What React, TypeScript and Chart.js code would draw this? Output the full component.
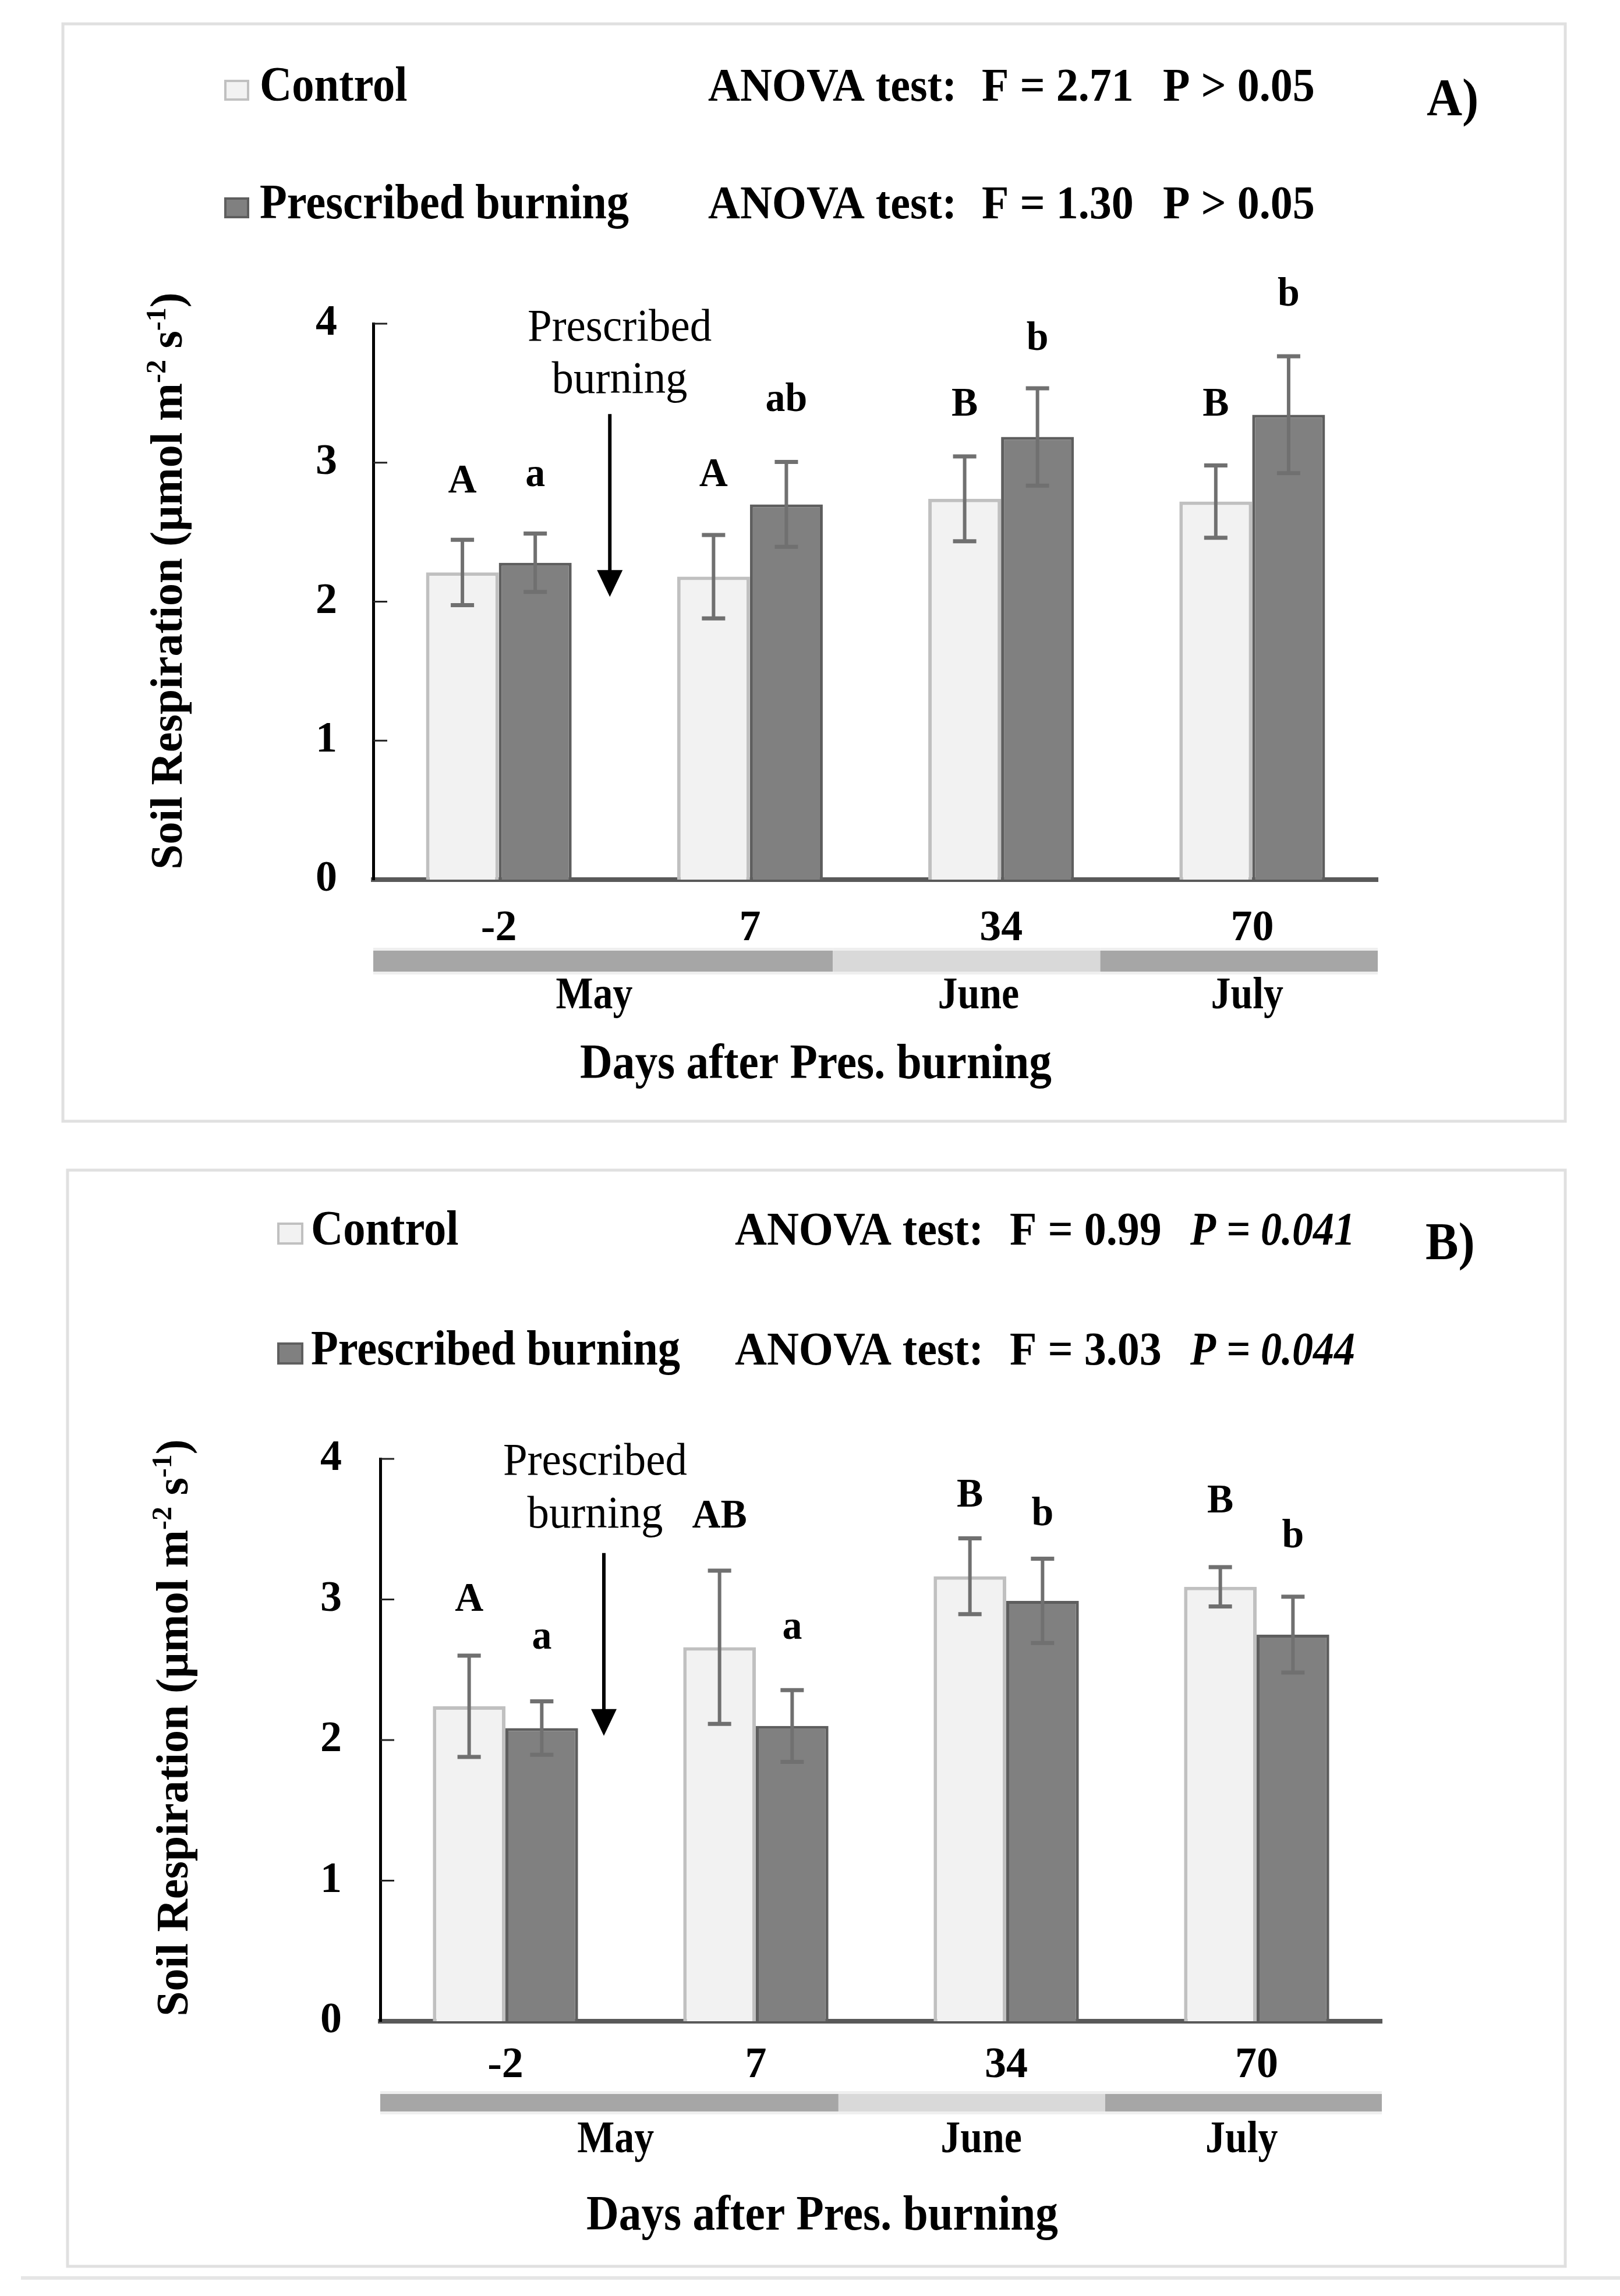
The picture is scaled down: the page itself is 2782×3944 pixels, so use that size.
import React, { useEffect, useRef } from 'react';
import { Chart, registerables } from 'chart.js';

Chart.register(...registerables);

// ---------------- data ----------------
const categories = ['-2', '7', '34', '70'];
const seriesNames = ['Control', 'Prescribed burning'];

// Panel A
const controlA = [2.21, 2.18, 2.74, 2.72];
const controlErrA = [0.235, 0.3, 0.305, 0.26];
const burnA = [2.28, 2.7, 3.185, 3.345];
const burnErrA = [0.21, 0.305, 0.35, 0.42];
const controlLettersA = ['A', 'A', 'B', 'B'];
const controlLetterYA = [2.785, 2.83, 3.34, 3.34];
const burnLettersA = ['a', 'ab', 'b', 'b'];
const burnLetterYA = [2.83, 3.37, 3.81, 4.13];
const anovaFA = ['F = 2.71', 'F = 1.30'];
const anovaPA = ['P > 0.05', 'P > 0.05'];

// Panel B
const controlB = [2.24, 2.66, 3.165, 3.09];
const controlErrB = [0.36, 0.545, 0.27, 0.14];
const burnB = [2.085, 2.1, 2.99, 2.75];
const burnErrB = [0.19, 0.255, 0.3, 0.27];
const controlLettersB = ['A', 'AB', 'B', 'B'];
const controlLetterYB = [2.92, 3.51, 3.66, 3.62];
const burnLettersB = ['a', 'a', 'b', 'b'];
const burnLetterYB = [2.65, 2.72, 3.53, 3.37];
const anovaFB = ['F = 0.99', 'F = 3.03'];
const anovaPB = ['P = 0.041', 'P = 0.044'];

// month bands (in category-axis units)
const months = ['May', 'June', 'July'];
const monthStart = [-0.5, 1.33, 2.395];
const monthEnd = [1.33, 2.395, 3.5];
const monthLabelAtA = [0.38, 1.91, 2.98];
const monthLabelAtB = [0.44, 1.9, 2.94];
const monthColors = ['#a6a6a6', '#d9d9d9', '#a6a6a6'];

const yTicks = [0, 1, 2, 3, 4];

// ---------------- style ----------------
const W = 2782;
const H = 1972;
const SERIF = '"Liberation Serif", "Times New Roman", serif';
const CONTROL_FILL = '#f2f2f2';
const CONTROL_EDGE = '#c0c0c0';
const BURN_FILL = '#808080';
const BURN_EDGE = '#5e5e5e';
const ERR_COLOR = '#707070';

type PanelSpec = {
  control: number[];
  controlErr: number[];
  burn: number[];
  burnErr: number[];
  controlLetters: string[];
  controlLetterY: number[];
  burnLetters: string[];
  burnLetterY: number[];
  anovaF: string[];
  anovaP: string[];
  pItalic: boolean;
  letter: string;
  monthLabelAt: number[];
  pad: { left: number; right: number; top: number; bottom: number };
  yLabelPad: number;
  xLabelPad: number;
  border: { x: number; y: number; w: number; h: number };
  bottomLine?: number;
  legendSqX: number;
  legendSqW: number;
  legendSqH: number;
  legendTextX: number;
  rowBase: number[];
  anovaX: number[];
  letterX: number;
  letterBase: number;
  yTitleX: number;
  yTitleY: number;
  xTitleX: number;
  xTitleBase: number;
  monthBase: number;
  bandTop: number;
  bandBottom: number;
  presTextX: number;
  presBase: number[];
  arrowX: number;
  arrowFrom: number;
  arrowTo: number;
};

const panelA: PanelSpec = {
  control: controlA,
  controlErr: controlErrA,
  burn: burnA,
  burnErr: burnErrA,
  controlLetters: controlLettersA,
  controlLetterY: controlLetterYA,
  burnLetters: burnLettersA,
  burnLetterY: burnLetterYA,
  anovaF: anovaFA,
  anovaP: anovaPA,
  pItalic: false,
  letter: 'A)',
  monthLabelAt: monthLabelAtA,
  pad: { left: 481, right: 416, top: 556, bottom: 311 },
  yLabelPad: 62,
  xLabelPad: 40,
  border: { x: 108, y: 41, w: 2580, h: 1885 },
  legendSqX: 385,
  legendSqW: 43,
  legendSqH: 36,
  legendTextX: 446,
  rowBase: [173, 375],
  anovaX: [1216, 1686, 1997],
  letterX: 2450,
  letterBase: 198,
  yTitleX: 312,
  yTitleY: 998,
  xTitleX: 1401,
  xTitleBase: 1852,
  monthBase: 1732,
  bandTop: 1633,
  bandBottom: 1669,
  presTextX: 0.481,
  presBase: [3.88, 3.5],
  arrowX: 0.442,
  arrowFrom: 3.35,
  arrowTo: 2.035,
};

const panelB: PanelSpec = {
  control: controlB,
  controlErr: controlErrB,
  burn: burnB,
  burnErr: burnErrB,
  controlLetters: controlLettersB,
  controlLetterY: controlLetterYB,
  burnLetters: burnLettersB,
  burnLetterY: burnLetterYB,
  anovaF: anovaFB,
  anovaP: anovaPB,
  pItalic: true,
  letter: 'B)',
  monthLabelAt: monthLabelAtB,
  pad: { left: 493, right: 409, top: 534, bottom: 322 },
  yLabelPad: 66,
  xLabelPad: 32,
  border: { x: 116, y: 38, w: 2572, h: 1883 },
  bottomLine: 1941,
  legendSqX: 476,
  legendSqW: 45,
  legendSqH: 38,
  legendTextX: 534,
  rowBase: [166, 372],
  anovaX: [1262, 1734, 2044],
  letterX: 2448,
  letterBase: 191,
  yTitleX: 322,
  yTitleY: 996,
  xTitleX: 1412,
  xTitleBase: 1858,
  monthBase: 1725,
  bandTop: 1625,
  bandBottom: 1655,
  presTextX: 0.358,
  presBase: [3.89, 3.51],
  arrowX: 0.393,
  arrowFrom: 3.33,
  arrowTo: 2.03,
};

function drawText(
  ctx: CanvasRenderingContext2D,
  s: string,
  x: number,
  y: number,
  font: string,
  align: CanvasTextAlign = 'left',
  sx = 1
) {
  ctx.save();
  ctx.translate(x, y);
  ctx.scale(sx, 1);
  ctx.font = font;
  ctx.textAlign = align;
  ctx.textBaseline = 'alphabetic';
  ctx.fillStyle = '#000';
  ctx.fillText(s, 0, 0);
  ctx.restore();
}

function makePlugin(p: PanelSpec) {
  return {
    id: 'panelDecor',
    beforeDraw(chart: any) {
      const ctx: CanvasRenderingContext2D = chart.ctx;
      ctx.save();
      ctx.fillStyle = '#ffffff';
      ctx.fillRect(0, 0, chart.width, chart.height);
      ctx.strokeStyle = '#e0e0e0';
      ctx.lineWidth = 5;
      ctx.strokeRect(p.border.x, p.border.y, p.border.w, p.border.h);
      if (p.bottomLine) {
        ctx.fillStyle = '#e6e6e6';
        ctx.fillRect(36, p.bottomLine - 3, chart.width - 36, 6);
      }
      ctx.restore();
    },
    afterDatasetsDraw(chart: any) {
      const ctx: CanvasRenderingContext2D = chart.ctx;
      const y = chart.scales.y;
      ctx.save();
      const sets = [
        { vals: p.control, errs: p.controlErr },
        { vals: p.burn, errs: p.burnErr },
      ];
      sets.forEach((s, di) => {
        const meta = chart.getDatasetMeta(di);
        meta.data.forEach((bar: any, i: number) => {
          const cx = bar.x;
          const yHi = y.getPixelForValue(s.vals[i] + s.errs[i]);
          const yLo = y.getPixelForValue(s.vals[i] - s.errs[i]);
          ctx.strokeStyle = ERR_COLOR;
          ctx.lineWidth = 6;
          ctx.beginPath();
          ctx.moveTo(cx, yHi);
          ctx.lineTo(cx, yLo);
          ctx.stroke();
          ctx.lineWidth = 7;
          ctx.beginPath();
          ctx.moveTo(cx - 20, yHi);
          ctx.lineTo(cx + 20, yHi);
          ctx.moveTo(cx - 20, yLo);
          ctx.lineTo(cx + 20, yLo);
          ctx.stroke();
        });
      });
      ctx.restore();
    },
    afterDraw(chart: any) {
      const ctx: CanvasRenderingContext2D = chart.ctx;
      const { x, y } = chart.scales;
      const area = chart.chartArea;
      ctx.save();

      // inner y ticks
      ctx.strokeStyle = '#222';
      ctx.lineWidth = 3;
      yTicks.forEach((v) => {
        if (v === 0) return;
        const py = y.getPixelForValue(v);
        ctx.beginPath();
        ctx.moveTo(area.left, py);
        ctx.lineTo(area.left + 24, py);
        ctx.stroke();
      });

      // significance letters
      const letterFont = `bold 70px ${SERIF}`;
      const cm = chart.getDatasetMeta(0);
      const bm = chart.getDatasetMeta(1);
      cm.data.forEach((bar: any, i: number) => {
        drawText(ctx, p.controlLetters[i], bar.x, y.getPixelForValue(p.controlLetterY[i]), letterFont, 'center', 0.97);
      });
      bm.data.forEach((bar: any, i: number) => {
        drawText(ctx, p.burnLetters[i], bar.x, y.getPixelForValue(p.burnLetterY[i]), letterFont, 'center', 0.97);
      });

      // prescribed burning annotation
      const annFont = `78px ${SERIF}`;
      const tx = x.getPixelForValue(p.presTextX);
      drawText(ctx, 'Prescribed', tx, y.getPixelForValue(p.presBase[0]), annFont, 'center', 0.96);
      drawText(ctx, 'burning', tx, y.getPixelForValue(p.presBase[1]), annFont, 'center', 0.96);
      const ax = x.getPixelForValue(p.arrowX);
      const ay0 = y.getPixelForValue(p.arrowFrom);
      const ay1 = y.getPixelForValue(p.arrowTo);
      ctx.strokeStyle = '#000';
      ctx.fillStyle = '#000';
      ctx.lineWidth = 6;
      ctx.beginPath();
      ctx.moveTo(ax, ay0);
      ctx.lineTo(ax, ay1 - 40);
      ctx.stroke();
      ctx.beginPath();
      ctx.moveTo(ax - 22, ay1 - 46);
      ctx.lineTo(ax + 22, ay1 - 46);
      ctx.lineTo(ax, ay1);
      ctx.closePath();
      ctx.fill();

      // legend + ANOVA
      const legFont = `bold 85px ${SERIF}`;
      const anFont = `bold 80px ${SERIF}`;
      const anItal = `italic bold 80px ${SERIF}`;
      const fills = [CONTROL_FILL, BURN_FILL];
      const edges = [CONTROL_EDGE, BURN_EDGE];
      for (let r = 0; r < 2; r++) {
        const base = p.rowBase[r];
        ctx.fillStyle = fills[r];
        ctx.fillRect(p.legendSqX, base - p.legendSqH, p.legendSqW, p.legendSqH);
        ctx.strokeStyle = edges[r];
        ctx.lineWidth = 4;
        ctx.strokeRect(p.legendSqX + 2, base - p.legendSqH + 2, p.legendSqW - 4, p.legendSqH - 4);
        drawText(ctx, chart.data.datasets[r].label, p.legendTextX, base, legFont, 'left', 0.9);
        drawText(ctx, 'ANOVA test:', p.anovaX[0], base, anFont, 'left', 0.95);
        drawText(ctx, p.anovaF[r], p.anovaX[1], base, anFont, 'left', 0.95);
        drawText(ctx, p.anovaP[r], p.anovaX[2], base, p.pItalic ? anItal : anFont, 'left', p.pItalic ? 0.9 : 0.95);
      }
      drawText(ctx, p.letter, p.letterX, p.letterBase, `bold 92px ${SERIF}`, 'left', 0.92);

      // month bands
      for (let m = 0; m < months.length; m++) {
        const x0 = x.getPixelForValue(monthStart[m]);
        const x1 = x.getPixelForValue(monthEnd[m]);
        ctx.fillStyle = '#efefef';
        ctx.fillRect(x0, p.bandTop - 5, x1 - x0, p.bandBottom - p.bandTop + 10);
        ctx.fillStyle = monthColors[m];
        ctx.fillRect(x0, p.bandTop, x1 - x0, p.bandBottom - p.bandTop);
        drawText(ctx, months[m], x.getPixelForValue(p.monthLabelAt[m]), p.monthBase, `bold 78px ${SERIF}`, 'center', 0.87);
      }

      // x title
      drawText(ctx, 'Days after Pres. burning', p.xTitleX, p.xTitleBase, `bold 84px ${SERIF}`, 'center', 0.92);

      // y title with superscripts
      const fs = 78;
      const segs: { t: string; sup: boolean }[] = [
        { t: 'Soil Respiration (µmol m', sup: false },
        { t: '-2', sup: true },
        { t: ' s', sup: false },
        { t: '-1', sup: true },
        { t: ')', sup: false },
      ];
      const mainF = `bold ${fs}px ${SERIF}`;
      const supF = `bold ${Math.round(fs * 0.62)}px ${SERIF}`;
      let total = 0;
      segs.forEach((s) => {
        ctx.font = s.sup ? supF : mainF;
        total += ctx.measureText(s.t).width;
      });
      ctx.translate(p.yTitleX, p.yTitleY);
      ctx.rotate(-Math.PI / 2);
      let cx = -total / 2;
      segs.forEach((s) => {
        ctx.font = s.sup ? supF : mainF;
        ctx.textAlign = 'left';
        ctx.textBaseline = 'alphabetic';
        ctx.fillStyle = '#000';
        ctx.fillText(s.t, cx, s.sup ? -fs * 0.36 : 0);
        cx += ctx.measureText(s.t).width;
      });
      ctx.restore();
    },
  };
}

function buildConfig(p: PanelSpec): any {
  return {
    type: 'bar',
    data: {
      labels: categories,
      datasets: [
        {
          label: seriesNames[0],
          data: p.control,
          backgroundColor: CONTROL_FILL,
          borderColor: CONTROL_EDGE,
          borderWidth: 6,
          categoryPercentage: 0.58,
          barPercentage: 1.0,
        },
        {
          label: seriesNames[1],
          data: p.burn,
          backgroundColor: BURN_FILL,
          borderColor: BURN_EDGE,
          borderWidth: 5,
          categoryPercentage: 0.58,
          barPercentage: 1.0,
        },
      ],
    },
    options: {
      responsive: false,
      animation: false,
      devicePixelRatio: 1,
      layout: { padding: p.pad },
      plugins: {
        legend: { display: false },
        tooltip: { enabled: false },
        title: { display: false },
      },
      scales: {
        x: {
          z: 1,
          offset: true,
          grid: { display: false, drawTicks: false },
          border: { display: true, color: '#595959', width: 8 },
          ticks: {
            color: '#000',
            padding: p.xLabelPad,
            maxRotation: 0,
            font: { family: 'Liberation Serif', size: 74, weight: 'bold' },
          },
          afterFit: (s: any) => {
            s.height = 150;
          },
        },
        y: {
          z: 1,
          min: 0,
          max: 4,
          grid: { display: false, drawTicks: false },
          border: { display: true, color: '#000', width: 5 },
          ticks: {
            stepSize: 1,
            color: '#000',
            padding: p.yLabelPad,
            font: { family: 'Liberation Serif', size: 74, weight: 'bold' },
          },
          afterFit: (s: any) => {
            s.width = 160;
          },
        },
      },
    },
    plugins: [makePlugin(p)],
  };
}

function PanelChart({ spec, top }: { spec: PanelSpec; top: number }) {
  const ref = useRef<HTMLCanvasElement>(null);
  useEffect(() => {
    if (!ref.current) return;
    const chart = new Chart(ref.current, buildConfig(spec));
    return () => chart.destroy();
  }, [spec]);
  return (
    <canvas
      ref={ref}
      width={W}
      height={H}
      style={{ position: 'absolute', left: 0, top, width: W, height: H, display: 'block' }}
    />
  );
}

export default function App() {
  return (
    <div style={{ position: 'absolute', left: 0, top: 0, width: W, height: 2 * H, background: '#fff' }}>
      <PanelChart spec={panelA} top={0} />
      <PanelChart spec={panelB} top={H} />
    </div>
  );
}
